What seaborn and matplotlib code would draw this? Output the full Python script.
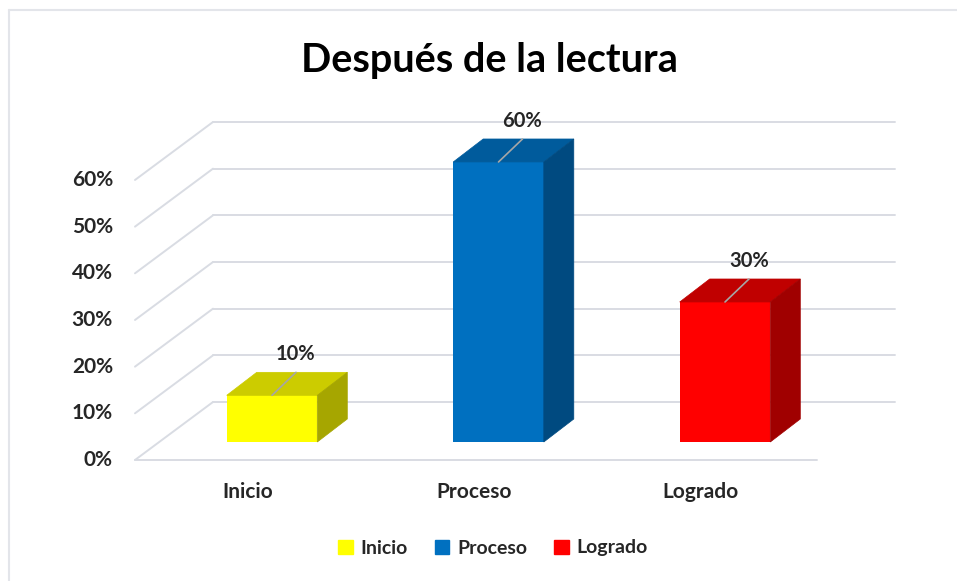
import matplotlib
matplotlib.use("Agg")
import matplotlib.pyplot as plt
import seaborn as sns
import pandas as pd
from matplotlib.patches import Polygon, Patch
from matplotlib.lines import Line2D

# ---- data ----
categories = ["Inicio", "Proceso", "Logrado"]
values = [0.10, 0.60, 0.30]
value_labels = ["10%", "60%", "30%"]
tick_values = [0.0, 0.1, 0.2, 0.3, 0.4, 0.5, 0.6]
tick_labels = ["0%", "10%", "20%", "30%", "40%", "50%", "60%"]
title = "Después de la lectura"

front_colors = ["#FFFF00", "#0070C0", "#FF0000"]
top_colors = ["#CCCC00", "#005B9C", "#C00000"]
side_colors = ["#A6A600", "#004A80", "#A00000"]

sns.set_theme(style="white")
plt.rcParams["font.family"] = ["Lato", "DejaVu Sans"]

W, H, DPI = 957, 581, 100
fig = plt.figure(figsize=(W / DPI, H / DPI), dpi=DPI)
fig.patch.set_facecolor("white")
ax = fig.add_axes([0, 0, 1, 1])

df = pd.DataFrame({"cat": categories, "val": values})
sns.barplot(data=df, x="cat", y="val", hue="cat", palette=front_colors,
            width=0.40, saturation=1, legend=False, ax=ax, zorder=3,
            linewidth=0)

# axis scaling (category spacing / value scale in pixels)
S_PX = 226.5
V_PX = 466.7
X0_PX = 272.0
BASE_PX = 442.0
ax.set_xlim(-X0_PX / S_PX, (W - X0_PX) / S_PX)
ax.set_ylim((BASE_PX - H) / V_PX, BASE_PX / V_PX)
ax.axis("off")

# 3D geometry offsets (data units)
DXB, DYB = 30 / S_PX, 23 / V_PX          # bar depth
FRONT_L, BACK_L = -0.6049, -0.2605       # wall left edges
FRONT_R, BACK_R = 2.406, 2.7506
FRONT_DV, BACK_DV = -18 / V_PX, 40 / V_PX
grid_c = "#D9DCE3"

for t in tick_values:
    ax.plot([FRONT_L, BACK_L], [t + FRONT_DV, t + BACK_DV], color=grid_c, lw=1.4, zorder=1)
    ax.plot([BACK_L, BACK_R], [t + BACK_DV, t + BACK_DV], color=grid_c, lw=1.4, zorder=1)
ax.plot([FRONT_L, FRONT_R], [FRONT_DV, FRONT_DV], color=grid_c, lw=1.4, zorder=1)

for t, lab in zip(tick_values, tick_labels):
    ax.text(-0.702, t + FRONT_DV, lab, ha="right", va="center",
            fontsize=15, fontweight="bold", color="#262626")

half = 0.20
for i, (v, tc, sc) in enumerate(zip(values, top_colors, side_colors)):
    l, r = i - half, i + half
    top = Polygon([(l, v), (r, v), (r + DXB, v + DYB), (l + DXB, v + DYB)],
                  closed=True, facecolor=tc, edgecolor=tc, lw=0.5, zorder=4)
    side = Polygon([(r, 0), (r + DXB, DYB), (r + DXB, v + DYB), (r, v)],
                   closed=True, facecolor=sc, edgecolor=sc, lw=0.5, zorder=4)
    ax.add_patch(top)
    ax.add_patch(side)
    # leader line + label
    ax.plot([i, i + DXB * 0.8], [v, v + DYB], color="#A6A6A6", lw=1.2, zorder=5)
    ax.text(i + 0.105, v + DYB + 18 / V_PX, value_labels[i], ha="center", va="center",
            fontsize=14.5, fontweight="bold", color="#262626", zorder=6)
    ax.text(i - 24 / S_PX, -50 / V_PX, categories[i], ha="center", va="center",
            fontsize=15, fontweight="bold", color="#262626")

fig.text(489 / W, 1 - 72 / H, title, ha="center", va="baseline",
         fontsize=28.5, fontweight="bold", color="black")

handles = [Patch(facecolor=c, edgecolor=c) for c in front_colors]
fig.legend(handles, categories, loc="center", bbox_to_anchor=(493 / W, 1 - 548 / H),
           ncol=3, frameon=False, handlelength=0.75, handleheight=0.75,
           handletextpad=0.4, columnspacing=1.4,
           prop={"size": 14, "weight": "bold"})

# chart border (top/left visible)
fig.add_artist(Line2D([9 / W, 1], [1 - 10 / H, 1 - 10 / H], color="#E3E5EA", lw=1.5))
fig.add_artist(Line2D([9 / W, 9 / W], [0, 1 - 10 / H], color="#E3E5EA", lw=1.5))

fig.savefig("out.png", dpi=DPI)
